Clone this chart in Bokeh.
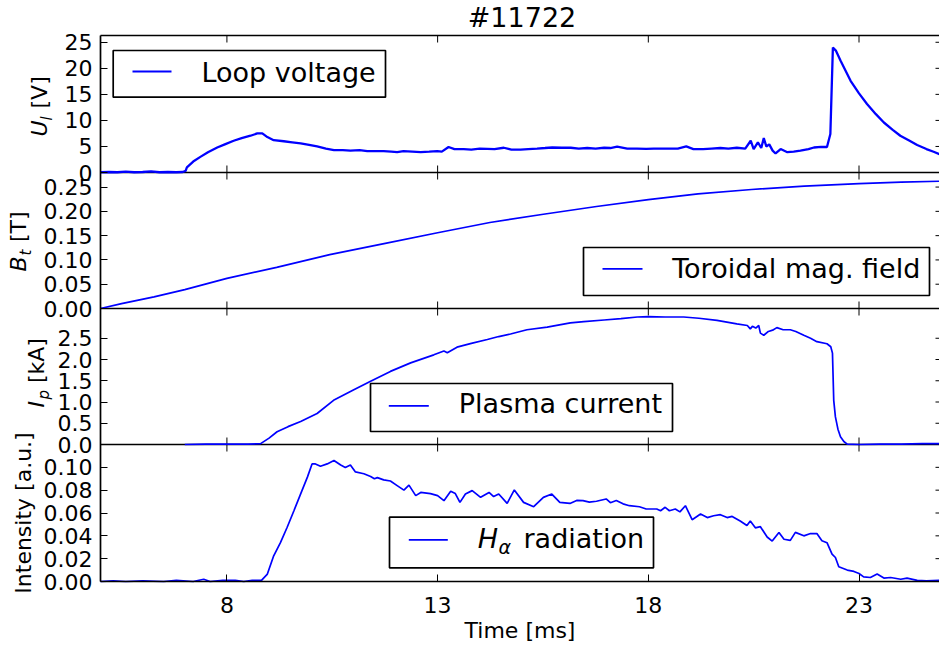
import math
from bokeh.plotting import figure
from bokeh.models import Range1d, LinearAxis, FixedTicker, Label, BoxAnnotation
from bokeh.embed import file_html
from bokeh.resources import INLINE

# ---------------- data ----------------
time_ul = [5.0, 5.2, 5.4, 5.6, 5.8, 6.0, 6.2, 6.4, 6.6, 6.8, 6.95, 7.02, 7.05, 7.2, 7.37, 7.55,
           7.77, 7.95, 8.16, 8.35, 8.56, 8.72, 8.84, 8.96, 9.11, 9.35, 9.55, 9.75, 9.95, 10.14,
           10.35, 10.54, 10.75, 10.93, 11.15, 11.33, 11.5, 11.72, 11.9, 12.04, 12.19, 12.4, 12.6,
           12.8, 12.99, 13.1, 13.26, 13.4, 13.62, 13.8, 14.0, 14.18, 14.35, 14.57, 14.75, 14.97,
           15.15, 15.36, 15.55, 15.72, 15.95, 16.16, 16.35, 16.55, 16.75, 16.95, 17.1, 17.26,
           17.5, 17.73, 17.95, 18.13, 18.3, 18.52, 18.7, 18.9, 19.07, 19.3, 19.5, 19.71, 19.9,
           20.1, 20.3, 20.43, 20.5, 20.6, 20.68, 20.74, 20.8, 20.87, 20.95, 21.02, 21.14, 21.3,
           21.45, 21.61, 21.8, 21.93, 22.1, 22.24, 22.32, 22.38, 22.45, 22.56, 22.8, 23.0, 23.19,
           23.4, 23.59, 23.8, 23.98, 24.2, 24.38, 24.6, 24.77, 24.91]
loop_voltage = [0.05, 0.1, 0.05, 0.15, 0.05, 0.1, 0.2, 0.05, 0.1, 0.05, 0.1, 0.3, 1.0, 2.1, 3.0, 3.9,
                4.8, 5.4, 6.1, 6.6, 7.06, 7.5, 7.5, 6.8, 6.2, 6.0, 5.8, 5.6, 5.3, 5.0,
                4.6, 4.3, 4.3, 4.2, 4.3, 4.1, 4.1, 4.1, 4.0, 3.9, 4.1, 4.0, 3.9,
                4.0, 4.1, 4.0, 4.9, 4.5, 4.5, 4.4, 4.6, 4.55, 4.5, 4.75, 4.4, 4.4,
                4.5, 4.6, 4.7, 4.8, 4.75, 4.75, 4.6, 4.7, 4.6, 4.75, 4.7, 4.95,
                4.6, 4.6, 4.55, 4.6, 4.6, 4.6, 4.6, 5.0, 4.5, 4.5, 4.6, 4.7, 4.6,
                4.75, 4.6, 6.1, 4.5, 5.8, 4.7, 6.6, 5.0, 5.4, 4.2, 3.65, 4.5, 3.9,
                4.0, 4.2, 4.5, 4.8, 4.9, 4.9, 7.4, 24.0, 23.4, 21.5, 17.6, 15.2, 13.15,
                11.2, 9.6, 8.2, 7.06, 6.1, 5.27, 4.5, 3.98, 3.5]

time_bt = [5.0, 5.5, 6.27, 7.0, 8.0, 9.18, 10.44, 11.7, 13.0, 14.24, 15.51, 16.77, 18.0, 19.18,
           20.45, 21.7, 23.0, 24.0, 24.91]
toroidal_field = [0.0, 0.010, 0.024, 0.039, 0.062, 0.0847, 0.111, 0.133, 0.156, 0.177, 0.194,
                  0.210, 0.224, 0.236, 0.245, 0.252, 0.257, 0.260, 0.262]

time_ip = [7.0, 7.5, 8.0, 8.5, 8.8, 9.0, 9.19, 9.45, 9.75, 10.14, 10.53, 11.0, 11.41, 11.88, 12.36,
           12.91, 13.15, 13.23, 13.46, 13.8, 14.18, 14.45, 14.73, 15.12, 15.6, 16.15, 16.47,
           16.95, 17.35, 17.74, 18.0, 18.4, 18.84, 19.2, 19.63, 20.1, 20.35, 20.42, 20.47, 20.55,
           20.62, 20.66, 20.74, 20.85, 20.95, 21.05, 21.2, 21.37, 21.5, 21.69, 21.85, 22.0, 22.24,
           22.33, 22.37, 22.40, 22.44, 22.5, 22.56, 22.64, 22.72, 23.0, 23.5, 24.0, 24.5, 24.91]
plasma_current = [0.0, 0.01, 0.01, 0.01, 0.02, 0.15, 0.30, 0.42, 0.54, 0.73, 1.04, 1.28, 1.49, 1.72,
                  1.92, 2.11, 2.20, 2.16, 2.29, 2.38, 2.47, 2.54, 2.60, 2.70, 2.76, 2.86, 2.89,
                  2.93, 2.96, 3.00, 3.01, 3.00, 3.00, 2.97, 2.92, 2.84, 2.80, 2.72, 2.78, 2.74,
                  2.80, 2.62, 2.57, 2.66, 2.69, 2.75, 2.70, 2.70, 2.66, 2.57, 2.50, 2.42, 2.37,
                  2.30, 2.15, 1.04, 0.65, 0.36, 0.18, 0.07, 0.01, 0.0, 0.01, 0.01, 0.02, 0.02]

time_ha = [5.0, 5.3, 5.6, 6.0, 6.5, 6.8, 7.2, 7.45, 7.6, 7.9, 8.2, 8.4, 8.6, 8.82, 8.96, 9.11,
           9.27, 9.43, 9.59, 9.75, 9.91, 10.02, 10.1, 10.22, 10.38, 10.54, 10.7, 10.81, 10.93,
           11.05, 11.25, 11.41, 11.5, 11.57, 11.72, 11.88, 12.04, 12.2, 12.32, 12.48, 12.6, 12.83,
           13.0, 13.15, 13.31, 13.42, 13.53, 13.66, 13.82, 14.02, 14.22, 14.33, 14.45, 14.65,
           14.82, 15.04, 15.28, 15.51, 15.71, 15.9, 16.14, 16.3, 16.45, 16.6, 16.77, 17.0, 17.1,
           17.24, 17.4, 17.55, 17.79, 17.95, 18.05, 18.2, 18.29, 18.4, 18.5, 18.64, 18.75, 18.88,
           19.04, 19.24, 19.4, 19.55, 19.71, 19.87, 19.99, 20.18, 20.34, 20.42, 20.54, 20.66,
           20.82, 20.94, 21.1, 21.22, 21.37, 21.49, 21.69, 21.85, 22.0, 22.12, 22.24, 22.36,
           22.44, 22.52, 22.72, 22.88, 23.0, 23.11, 23.27, 23.43, 23.59, 23.75, 23.99, 24.14,
           24.38, 24.6, 24.91]
h_alpha = [0.0, 0.0005, 0.0, 0.0005, 0.0, 0.001, 0.0, 0.002, 0.0, 0.001, 0.001, 0.0, 0.001, 0.001,
           0.0065, 0.0225, 0.034, 0.0475, 0.062, 0.0767, 0.0914, 0.103, 0.103, 0.101, 0.103, 0.106,
           0.102, 0.0999, 0.102, 0.096, 0.0944, 0.092, 0.090, 0.091, 0.089, 0.088, 0.084, 0.080,
           0.0844, 0.0752, 0.078, 0.077, 0.0752, 0.0708, 0.079, 0.077, 0.0693, 0.0766, 0.0796,
           0.0737, 0.078, 0.0744, 0.0766, 0.0684, 0.0802, 0.0693, 0.0655, 0.0737, 0.0766, 0.0693,
           0.0684, 0.071, 0.0708, 0.0695, 0.0703, 0.0723, 0.069, 0.071, 0.068, 0.0664, 0.0655,
           0.0635, 0.0635, 0.0635, 0.062, 0.065, 0.062, 0.0635, 0.061, 0.0664, 0.0541, 0.0591,
           0.056, 0.0576, 0.0585, 0.056, 0.057, 0.053, 0.049, 0.053, 0.047, 0.048, 0.039, 0.0354,
           0.043, 0.037, 0.036, 0.043, 0.040, 0.042, 0.042, 0.0357, 0.034, 0.024, 0.021, 0.0129,
           0.010, 0.0088, 0.007, 0.004, 0.0035, 0.0065, 0.003, 0.0035, 0.002, 0.003, 0.001, 0.0005,
           0.001]

x_ticks = [8, 13, 18, 23]
ul_ticks = [0, 5, 10, 15, 20, 25]
ul_tick_labels = ["0", "5", "10", "15", "20", "25"]
bt_ticks = [0.0, 0.05, 0.10, 0.15, 0.20, 0.25]
bt_tick_labels = ["0.00", "0.05", "0.10", "0.15", "0.20", "0.25"]
ip_ticks = [0.0, 0.5, 1.0, 1.5, 2.0, 2.5]
ip_tick_labels = ["0.0", "0.5", "1.0", "1.5", "2.0", "2.5"]
ha_ticks = [0.0, 0.02, 0.04, 0.06, 0.08, 0.10]
ha_tick_labels = ["0.00", "0.02", "0.04", "0.06", "0.08", "0.10"]

title_text = "#11722"
x_label = "Time [ms]"

# ---------------- layout ----------------
W, H = 939, 646            # whole canvas is the frame; axes are fixed inside it
AX_L = 100                 # px where the time axis starts
X0, X1 = 5.0, 24.91        # visible time window
Y0, Y1 = -65, 581          # virtual y: 1 unit == 1 px, 0 at bottom spine
TOP = 546                  # top spine (virtual)
PXX = (X1 - X0) / (W - AX_L)   # ms per px
BLUE = "#0000ff"
FONT = "DejaVu Sans"
LW = 1.7
FS = 22                    # tick / axis label font size (px)
BASE_SHIFT = 0.37          # em correction so that labels sit on the intended baseline

panels = {
    "ul": dict(band=(409, 546), lim=(0.0, 26.3), ticks=ul_ticks, labels=ul_tick_labels),
    "bt": dict(band=(273, 409), lim=(0.0, 0.28), ticks=bt_ticks, labels=bt_tick_labels),
    "ip": dict(band=(137, 273), lim=(0.0, 3.2), ticks=ip_ticks, labels=ip_tick_labels),
    "ha": dict(band=(0, 137), lim=(0.0, 0.12), ticks=ha_ticks, labels=ha_tick_labels),
}

p = figure(width=W, height=H, min_border=0, min_border_left=0, min_border_right=0,
           min_border_top=0, min_border_bottom=0,
           x_range=Range1d(X0 - AX_L * PXX, X1), y_range=Range1d(Y0, Y1),
           x_axis_type=None, y_axis_type=None, toolbar_location=None, tools="",
           output_backend="svg", outline_line_color=None, background_fill_color="white",
           border_fill_color="white")

tick_pos, overrides = [], {}
for name, d in panels.items():
    b0, b1 = d["band"]
    lo, hi = d["lim"]
    s = (hi - lo) / (b1 - b0)
    p.extra_y_ranges[name] = Range1d(lo - (b0 - Y0) * s, hi + (Y1 - b1) * s)
    for v, lab_ in zip(d["ticks"], d["labels"]):
        pos = round(b0 + (v - lo) / s, 4)
        tick_pos.append(pos)
        overrides[pos] = lab_

# left axis (fixed at the start of the time window)
yl = LinearAxis(fixed_location=X0, bounds=(0, TOP), ticker=FixedTicker(ticks=tick_pos),
                major_label_overrides=overrides, major_label_text_font=FONT,
                major_label_text_font_size=f"{FS}px", major_label_text_color="black",
                major_label_standoff=8, major_tick_in=7, major_tick_out=0,
                major_tick_line_width=1, minor_tick_line_color=None, axis_line_width=LW)
p.add_layout(yl, "left")
# bottom axis (fixed at the bottom spine)
xb = LinearAxis(fixed_location=0, bounds=(X0, X1), ticker=FixedTicker(ticks=x_ticks),
                axis_label=x_label, axis_label_text_font=FONT,
                axis_label_text_font_size=f"{FS}px",
                axis_label_text_font_style="normal", axis_label_text_color="black",
                axis_label_standoff=2, major_label_text_font=FONT,
                major_label_text_font_size=f"{FS}px", major_label_text_color="black",
                major_label_standoff=15, major_tick_in=7, major_tick_out=0,
                major_tick_line_width=1, minor_tick_line_color=None, axis_line_width=LW)
p.add_layout(xb, "below")

# top spine and inner panel boundaries, with inward x ticks
bounds_y = [137, 273, 409, TOP]
p.segment(x0=[X0] * 4, y0=bounds_y, x1=[X1] * 4, y1=bounds_y, line_color="black", line_width=LW)
tx, ty0, ty1 = [], [], []
for b in bounds_y:
    for xv in x_ticks:
        tx.append(xv)
        ty0.append(b - 7)
        ty1.append(b + 7 if b != TOP else b)
p.segment(x0=tx, y0=ty0, x1=tx, y1=ty1, line_color="black", line_width=1)
# right-side y ticks (right spine itself lies just outside the picture)
p.segment(x0=[X1 - 4 * PXX] * len(tick_pos), y0=tick_pos, x1=[X1] * len(tick_pos), y1=tick_pos,
          line_color="black", line_width=1)

# data lines
p.line(time_ul, loop_voltage, y_range_name="ul", line_color=BLUE, line_width=2.3)
p.line(time_bt, toroidal_field, y_range_name="bt", line_color=BLUE, line_width=LW)
p.line(time_ip, plasma_current, y_range_name="ip", line_color=BLUE, line_width=LW)
p.line(time_ha, h_alpha, y_range_name="ha", line_color=BLUE, line_width=LW)


def lab(px, py, text, size=FS, style="normal", angle=0.0, align="left"):
    """Label whose baseline starts at page pixel (px, py) measured from the top-left corner."""
    sh = BASE_SHIFT * size
    if angle == 0.0:
        py -= sh
    else:
        px -= sh
    p.add_layout(Label(x=px, y=H - py, x_units="screen", y_units="screen", text=text,
                       text_font=FONT, text_font_size=f"{size}px", text_font_style=style,
                       angle=angle, text_align=align, text_baseline="alphabetic",
                       text_color="black"))


def box(l, r, t, b, fill, line_color=None, lw=LW):
    p.add_layout(BoxAnnotation(left=l, right=r, top=H - t, bottom=H - b, left_units="screen",
                               right_units="screen", top_units="screen", bottom_units="screen",
                               fill_color=fill, fill_alpha=1.0, line_color=line_color,
                               line_alpha=1.0, line_width=lw))


def legend(frame, line, items):
    l, r, t, b = frame
    box(l, r, t, b, "white", "black")
    x0, x1, y = line
    box(x0, x1, y - 0.9, y + 0.9, BLUE)
    for (x, yy, text, size, style) in items:
        lab(x, yy, text, size=size, style=style)


legend((112.7, 385, 50, 96.7), (132, 171, 71), [(201, 81.7, "Loop voltage", 27, "normal")])
legend((583, 929, 247, 295), (602, 642, 268.3),
       [(671.7, 278.3, "Toroidal mag. field", 27, "normal")])
legend((370, 672, 383, 431), (388.3, 428.3, 405.3),
       [(458.3, 413.3, "Plasma current", 27, "normal")])
legend((389, 653, 516.7, 567.3), (408.3, 447.3, 539.3),
       [(477.3, 548.3, "H", 27, "italic"), (498, 554.0, "α", 19, "italic"),
        (523, 548.3, "radiation", 27, "normal")])

# y-axis labels (rotated; pieces for the math notation)
R = math.pi / 2
lab(47, 136, "U", style="italic", angle=R)
lab(52, 120, "l", size=15, style="italic", angle=R)
lab(47, 108, "[V]", angle=R)

lab(26, 271, "B", style="italic", angle=R)
lab(31, 255, "t", size=15, style="italic", angle=R)
lab(26, 241.5, "[T]", angle=R)

lab(44, 407, "I", style="italic", angle=R)
lab(49, 399, "p", size=15, style="italic", angle=R)
lab(44, 382.5, "[kA]", angle=R)

lab(31, 512.5, "Intensity [a.u.]", angle=R, align="center")

# title
lab(521.5, 27, title_text, size=27, align="center")

open("out.html", "w").write(file_html(p, INLINE))
